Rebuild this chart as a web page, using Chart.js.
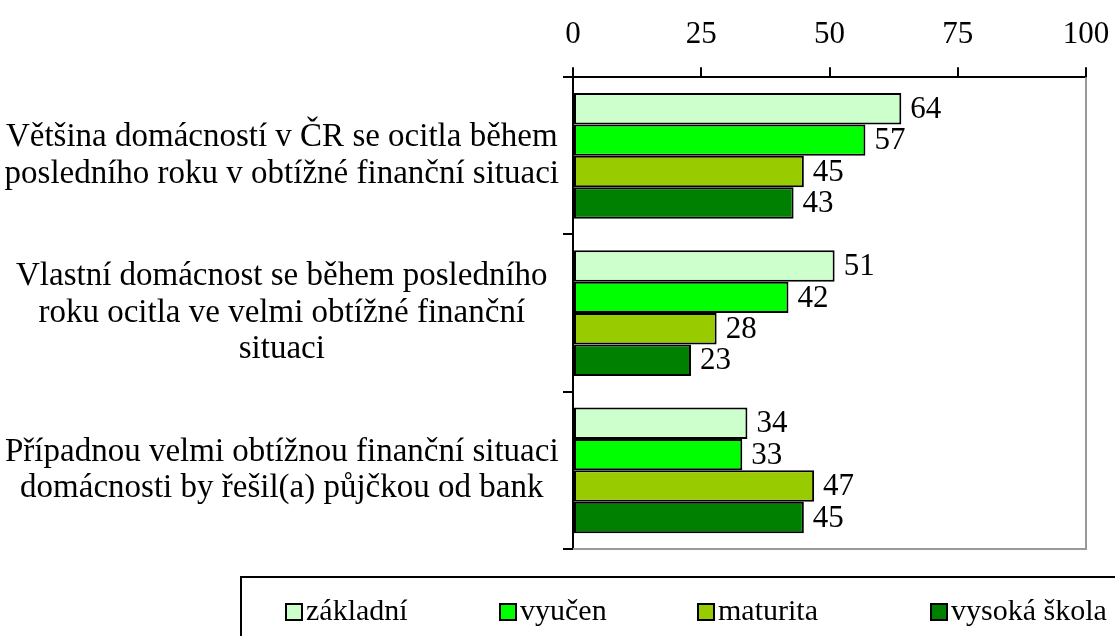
<!DOCTYPE html>
<html lang="cs">
  <head>
    <meta charset="UTF-8" />
    <title>Finanční situace domácností podle vzdělání</title>
    <script src="https://cdn.jsdelivr.net/npm/chart.js"></script>
    <style>
      body { margin: 0; background: #fff; font-family: "Liberation Serif", serif; }
      #wrap { position: relative; width: 1115px; height: 636px; overflow: hidden; }
      #legend {
        position: absolute; left: 240px; top: 576px; width: 900px; height: 80px;
        border: 2px solid #000; box-sizing: border-box;
      }
      .item { position: absolute; top: 15px; font-size: 30px; line-height: 34px; color: #000; white-space: nowrap; }
      .item span.box {
        display: inline-block; width: 14px; height: 14px; border: 2px solid #000;
        margin-right: 3px; vertical-align: -1px;
      }
    </style>
  </head>
  <body>
    <div id="wrap">
      <canvas id="chart"></canvas>
      <div id="legend"></div>
    </div>

    <script>
      const categories = [
        ["Většina domácností v ČR se ocitla během", "posledního roku v obtížné finanční situaci"],
        ["Vlastní domácnost se během posledního", "roku ocitla ve velmi obtížné finanční", "situaci"],
        ["Případnou velmi obtížnou finanční situaci", "domácnosti by řešil(a) půjčkou od bank"],
      ];
      const seriesNames = ["základní", "vyučen", "maturita", "vysoká škola"];
      const zakladni = [64, 51, 34];
      const vyucen = [57, 42, 33];
      const maturita = [45, 28, 47];
      const vysokaSkola = [43, 23, 45];
      const xTicks = [0, 25, 50, 75, 100];

      const colors = ["#CCFFCC", "#00FF00", "#99CC00", "#008000"];
      const legendLeft = [43, 257, 455, 688]; // relative to legend box

      const seriesValues = [zakladni, vyucen, maturita, vysokaSkola];
      const FONT = "Liberation Serif";

      // value labels at the end of each bar
      const valueLabels = {
        id: "valueLabels",
        afterDatasetsDraw(chart) {
          const ctx = chart.ctx;
          ctx.save();
          ctx.font = "31px '" + FONT + "'";
          ctx.fillStyle = "#000";
          ctx.textAlign = "left";
          ctx.textBaseline = "middle";
          chart.data.datasets.forEach((ds, i) => {
            chart.getDatasetMeta(i).data.forEach((bar, j) => {
              ctx.fillText(ds.data[j], bar.x + 9, bar.y + 1);
            });
          });
          ctx.restore();
        },
      };

      // grey right + bottom frame of the plot area
      const frame = {
        id: "frame",
        beforeDatasetsDraw(chart) {
          const a = chart.chartArea;
          const ctx = chart.ctx;
          ctx.save();
          ctx.strokeStyle = "#999";
          ctx.lineWidth = 2;
          ctx.beginPath();
          ctx.moveTo(a.right, a.top);
          ctx.lineTo(a.right, a.bottom);
          ctx.lineTo(a.left, a.bottom);
          ctx.stroke();
          ctx.restore();
        },
      };

      new Chart(document.getElementById("chart"), {
        type: "bar",
        data: {
          labels: categories,
          datasets: seriesNames.map((name, i) => ({
            label: name,
            data: seriesValues[i],
            backgroundColor: colors[i],
            borderColor: "#000",
            borderWidth: 2,
            borderSkipped: false,
            categoryPercentage: 0.8,
            barPercentage: 1.0,
          })),
        },
        options: {
          indexAxis: "y",
          responsive: true,
          maintainAspectRatio: false,
          animation: false,
          layout: { padding: { top: 2, right: 29, bottom: 87, left: 0 } },
          plugins: { legend: { display: false }, tooltip: { enabled: false } },
          scales: {
            x: {
              position: "top",
              min: 0,
              max: 100,
              afterBuildTicks: (s) => { s.ticks = xTicks.map((v) => ({ value: v })); },
              afterFit: (s) => { s.paddingRight = 0; s.paddingLeft = 0; },
              ticks: { font: { family: FONT, size: 31 }, color: "#000", padding: 14 },
              grid: { drawOnChartArea: false, tickLength: 10, color: "#000", lineWidth: 2 },
              border: { color: "#000", width: 2 },
            },
            y: {
              afterFit: (s) => { s.width = 573; },
              ticks: {
                font: { family: FONT, size: 33, lineHeight: 1.1 },
                color: "#000",
                crossAlign: "center",
                padding: 4,
              },
              grid: { drawOnChartArea: false, tickLength: 10, color: "#000", lineWidth: 2, offset: true },
              border: { color: "#000", width: 2 },
            },
          },
        },
        plugins: [frame, valueLabels],
      });

      const legend = document.getElementById("legend");
      seriesNames.forEach((name, i) => {
        const el = document.createElement("div");
        el.className = "item";
        el.style.left = legendLeft[i] + "px";
        el.innerHTML = '<span class="box" style="background:' + colors[i] + '"></span>' + name;
        legend.appendChild(el);
      });
    </script>
  </body>
</html>
